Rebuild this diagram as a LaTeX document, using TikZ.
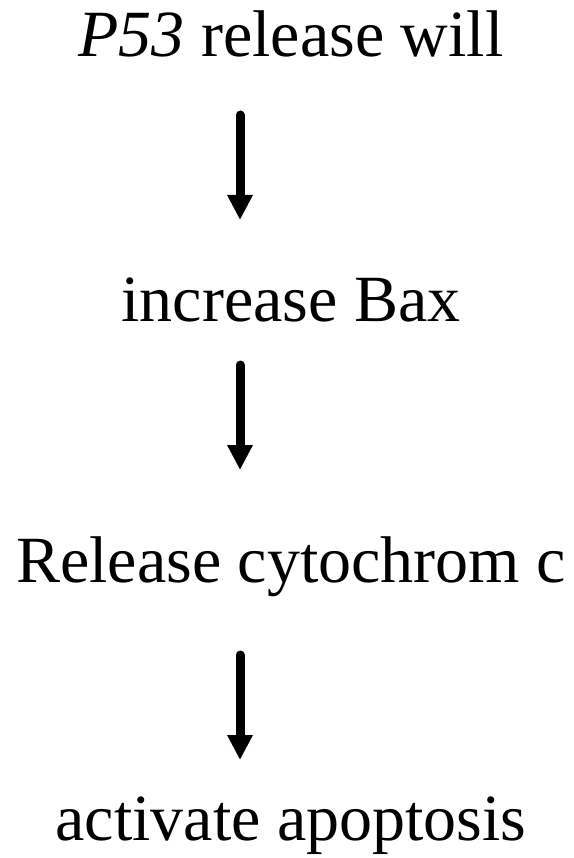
\documentclass[tikz,border=0pt]{standalone}
\usepackage{fontspec}
\setmainfont{Liberation Serif}
\usepackage{tikz}
\usetikzlibrary{arrows.meta, positioning}
\tikzset{
  step text/.style={anchor=base, inner sep=0pt, font=\fontsize{66}{70}\selectfont},
  flow/.style={-{Triangle[width=24pt,length=25pt]}, line width=9pt, line cap=round, color=black}
}

\begin{document}
\begin{tikzpicture}[x=1pt, y=1pt]
  \useasboundingbox (0,0) rectangle (573,-858);
  % pathway steps
  \node[step text] (p53) at (291,-57) {\textit{P53} release will};
  \node[step text] (bax) at (291,-321) {increase Bax};
  \node[step text] (cyt) at (291,-582) {Release cytochrom c};
  \node[step text] (apo) at (291,-840) {activate apoptosis};

  % arrow ends
  \coordinate (s1) at (240,-115);
  \coordinate (e1) at (240,-220);
  \coordinate (s2) at (240,-365);
  \coordinate (e2) at (240,-470);
  \coordinate (s3) at (240,-655);
  \coordinate (e3) at (240,-760);

  \draw[flow] (s1) -- (e1);
  \draw[flow] (s2) -- (e2);
  \draw[flow] (s3) -- (e3);
\end{tikzpicture}
\end{document}
